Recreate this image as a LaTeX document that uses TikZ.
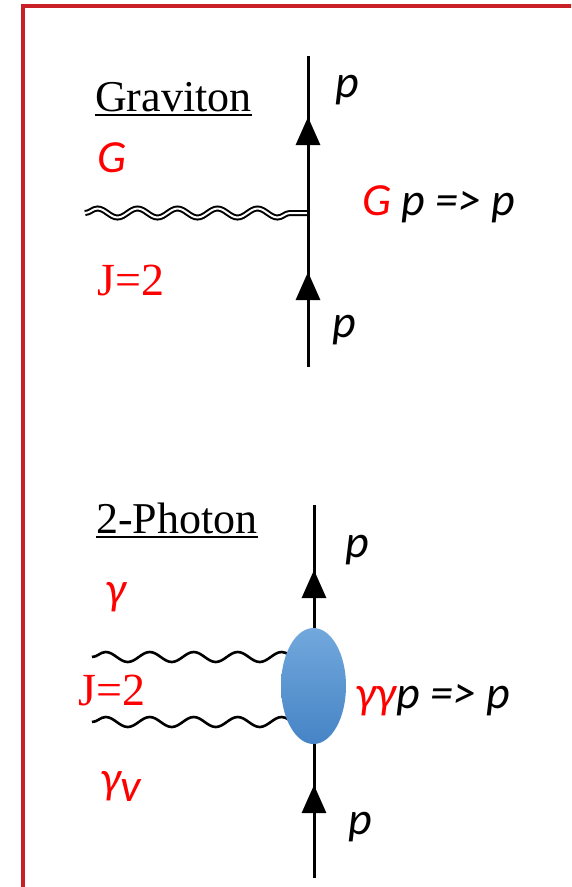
\documentclass[tikz,border=0pt]{standalone}
\usepackage{fontspec}
\setmainfont{Liberation Serif}
\newfontfamily\califont{Carlito}
\usetikzlibrary{arrows.meta, shapes.geometric, decorations.pathmorphing, decorations.markings, backgrounds}
\definecolor{framered}{RGB}{200,32,38}
\definecolor{blobtop}{RGB}{114,168,220}
\definecolor{blobbot}{RGB}{70,132,198}

\begin{document}
\begin{tikzpicture}[
      x=1pt, y=-1pt,
      lbl/.style={inner sep=0pt, anchor=base west},
      title/.style={lbl, font=\fontsize{44}{50}\selectfont},
      spin/.style={lbl, text=red, font=\fontsize{46}{52}\selectfont},
      mom/.style={lbl, font=\califont\itshape\fontsize{46}{52}\selectfont},
      fermion/.style 2 args={draw, line width=3pt, postaction={decorate},
      decoration={markings,
        mark=at position #1 with {\arrow{Triangle[width=24pt,length=28pt]}},
        mark=at position #2 with {\arrow{Triangle[width=24pt,length=28pt]}}}},
      graviton/.style={draw, line width=2pt, double, double distance=2pt,
      decorate, decoration={snake, segment length=40pt, amplitude=4.5pt}},
      photon/.style={draw, line width=2.6pt,
      decorate, decoration={snake, segment length=44pt, amplitude=5pt}},
      blob/.style={ellipse, minimum width=65pt, minimum height=116pt,
      inner sep=0pt, top color=blobtop, bottom color=blobbot}
    ]
    \clip (0,0) rectangle (571,887);
    \draw [framered, line width=4pt] (23,900) -- (23,5.5) -- (590,5.5);

    % Graviton
    \coordinate (pin1) at (308,367);
    \coordinate (vtx1) at (308,213);
    \coordinate (pout1) at (308,56);
    \coordinate (gin) at (85,213);
    \node [title] (grav) at (95,111) {Graviton};
    \node [mom, text=red] (glbl) at (97,172) {G};
    \node [spin] (spin1) at (97,295) {J=2};
    \node [mom] (pup1) at (335,97) {p};
    \node [mom] (pdn1) at (332,337) {p};
    \node [mom] (eq1) at (362,215) {{\color{red}G} p => p};
    \draw [line width=1.8pt] ([yshift=-4pt]grav.base west) -- ([yshift=-4pt]grav.base east);

    \path [graviton] (gin) -- (vtx1);
    \path [fermion={95pt}{250pt}] (pin1) -- (vtx1) -- (pout1);

    % 2-Photon
    \coordinate (pin2) at (314,878);
    \coordinate (pout2) at (314,505);
    \coordinate (ga) at (92,657);
    \coordinate (gb) at (92,722);
    \node [blob] (blob) at (313.5,686) {};
    \node [title] (phot) at (96,533) {2-Photon};
    \node [mom, text=red] (galbl) at (105,604) {γ};
    \node [spin] (spin2) at (78,705) {J=2};
    \node [mom, text=red] (gblbl) at (100,793) {γ\raisebox{-8pt}{v}};
    \node [mom] (pup2) at (345,557) {p};
    \node [mom] (pdn2) at (348,834) {p};
    \node [mom] (eq2) at (355,708) {{\color{red}γγ}p => p};
    \draw [line width=1.8pt] ([yshift=-4pt]phot.base west) -- ([yshift=-4pt]phot.base east);

    \begin{scope}[on background layer]
      \path [photon] (ga) -- (ga -| blob.center);
      \path [photon] (gb) -- (gb -| blob.center);
      \path [fermion={93pt}{308pt}] (pin2) -- (pout2);
    \end{scope}
  \end{tikzpicture}
\end{document}
